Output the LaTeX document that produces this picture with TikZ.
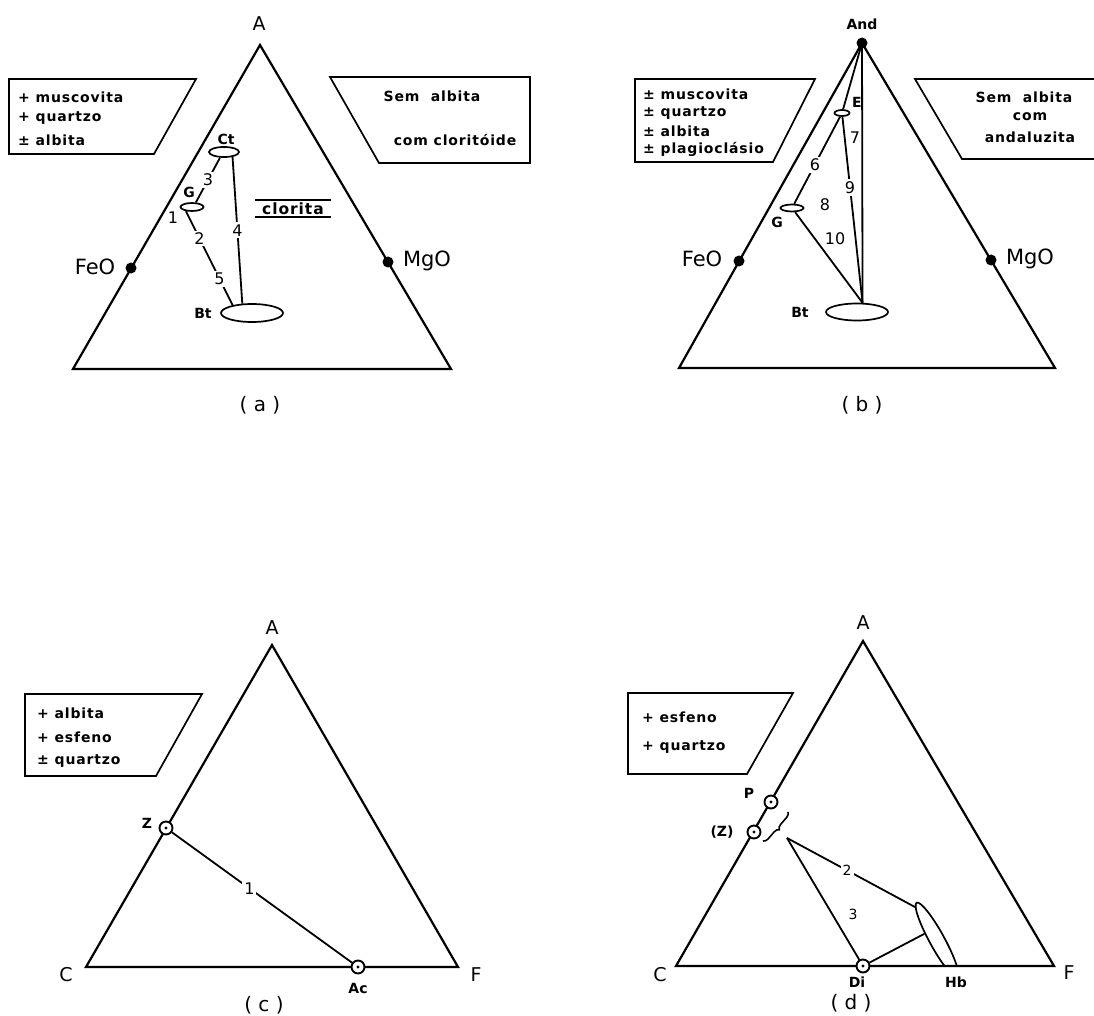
\documentclass[tikz,border=0pt]{standalone}
\usepackage{fontspec}
\setmainfont{DejaVu Sans}
\newfontfamily\boxfont[LetterSpace=6]{DejaVu Sans}
\usetikzlibrary{shapes.geometric,decorations.pathreplacing}
\begin{document}
\begin{tikzpicture}[x=1pt,y=-1pt,
  tri/.style={line width=2.2pt, line join=miter},
  tie/.style={line width=1.8pt},
  boxs/.style={line width=1.7pt, line join=miter},
  rulel/.style={line width=1.5pt},
  boxtxt/.style={font=\boxfont\bfseries\fontsize{14}{16}\selectfont, anchor=west, inner sep=0pt},
  boxctr/.style={font=\boxfont\bfseries\fontsize{14}{16}\selectfont, inner sep=0pt},
  vlab/.style={font=\fontsize{19}{21}\selectfont, inner sep=0pt},
  oxlab/.style={font=\fontsize{21}{23}\selectfont, inner sep=0pt},
  minlab/.style={font=\bfseries\fontsize{14}{16}\selectfont, inner sep=0pt},
  numfill/.style={font=\fontsize{16}{18}\selectfont, fill=white, inner sep=2pt},
  numplain/.style={font=\fontsize{16}{18}\selectfont, inner sep=0pt},
  plab/.style={font=\fontsize{20}{22}\selectfont, inner sep=0pt},
  phase/.style={ellipse, draw, line width=1.7pt, inner sep=0pt},
  dotpt/.style={circle, fill, inner sep=0pt, minimum size=11pt},
  ringpt/.style={circle, draw, line width=1.9pt, fill=white, inner sep=0pt, minimum size=13pt},
  ringdot/.style={circle, fill, inner sep=0pt, minimum size=3.2pt},
]
\fill[white] (0,0) rectangle (1094,1016);
\useasboundingbox (0,0) rectangle (1094,1016);

% ================= (a) =================
\coordinate (aA) at (260,45);
\coordinate (aL) at (73,369);
\coordinate (aR) at (451,369);
\draw[tri] (aA) -- (aL) -- (aR) -- cycle;
\node[vlab] (aAl) at (259,24) {A};
\node[dotpt] (aFe) at (131,268) {};
\node[oxlab] (aFel) at (95,267) {FeO};
\node[dotpt] (aMg) at (388,262) {};
\node[oxlab] (aMgl) at (427,261) {MgO};

\draw[boxs] (9,79) -- (196,79) -- (154,154) -- (9,154) -- cycle;
\node[boxtxt] (a1) at (18,97) {+ muscovita};
\node[boxtxt] (a2) at (18,118) {+ quartzo};
\node[boxtxt] (a3) at (18,140) {± albita};

\draw[boxs] (330,77) -- (530,77) -- (530,163) -- (379,163) -- cycle;
\node[boxctr] (a4) at (432,96) {Sem\ \ albita};
\node[boxctr] (a5) at (455,140) {com cloritóide};

\node[phase, minimum width=30pt, minimum height=10pt] (ct) at (224,152) {};
\node[minlab] (ctl) at (226,139) {Ct};
\node[phase, minimum width=23pt, minimum height=8pt] (ga) at (192,207) {};
\node[minlab] (gal) at (189,192) {G};
\node[phase, minimum width=62pt, minimum height=18pt] (bta) at (252,313) {};
\node[minlab] (btal) at (203,313) {Bt};

\draw[tie] (ct.235) -- node[numfill, pos=.5] {3} (ga.50);
\draw[tie] (ct.330) -- node[numfill, pos=.5] {4} (bta.136);
\draw[tie] (ga.215) -- node[numfill, pos=.29] {2} node[numfill, pos=.72] {5} (bta.158);
\node[numplain] (a1n) at (173,218) {1};

\node[boxctr, font=\boxfont\bfseries\fontsize{15.5}{17}\selectfont, minimum width=76pt, minimum height=17pt] (clor) at (293,208.5) {clorita};
\draw[rulel] (clor.north west) -- (clor.north east);
\draw[rulel] (clor.south west) -- (clor.south east);

\node[plab] (acap) at (260,405) {( a )};

% ================= (b) =================
\coordinate (bA) at (862,43);
\coordinate (bL) at (679,368);
\coordinate (bR) at (1055,368);
\draw[tri] (bA) -- (bL) -- (bR) -- cycle;
\node[minlab] (bandl) at (862,24) {And};
\node[dotpt] (bFe) at (739,261) {};
\node[oxlab] (bFel) at (702,259) {FeO};
\node[dotpt] (bMg) at (991,260) {};
\node[oxlab] (bMgl) at (1030,259) {MgO};

\draw[boxs] (635,79) -- (815,79) -- (773,162) -- (635,162) -- cycle;
\node[boxtxt] (b1) at (643,94) {± muscovita};
\node[boxtxt] (b2) at (643,113) {± quartzo};
\node[boxtxt] (b3) at (643,131) {± albita};
\node[boxtxt] (b4) at (643,149) {± plagioclásio};

\draw[boxs] (1100,79) -- (915,79) -- (962,159) -- (1100,159);
\node[boxctr] (b5) at (1024,97) {Sem\ \ albita};
\node[boxctr] (b6) at (1030,117) {com};
\node[boxctr] (b7) at (1030,137) {andaluzita};

\node[phase, minimum width=15pt, minimum height=6pt] (eb) at (842,113) {};
\node[minlab] (ebl) at (857,102) {E};
\node[phase, minimum width=23pt, minimum height=7pt] (gb) at (792,208) {};
\node[minlab] (gbl) at (777,222) {G};
\node[phase, minimum width=62pt, minimum height=17pt] (btb) at (857,312) {};
\node[minlab] (btbl) at (800,312) {Bt};

\draw[tie] (bA) -- (eb);
\draw[tie] (bA) -- (btb.59);
\draw[tie] (eb) -- node[numfill, pos=.55] {6} (gb);
\draw[tie] (eb) -- node[numfill, pos=.38] {9} (btb.59);
\draw[tie] (gb) -- (btb.59);
\node[dotpt] (band) at (862,43) {};
\node[numplain] (b7n) at (855,138) {7};
\node[numplain] (b8n) at (825,205) {8};
\node[numplain] (b10n) at (835,239) {10};

\node[plab] (bcap) at (862,405) {( b )};

% ================= (c) =================
\coordinate (cA) at (272,645);
\coordinate (cC) at (86,967);
\coordinate (cF) at (458,967);
\draw[tri] (cA) -- (cC) -- (cF) -- cycle;
\node[vlab] (cAl) at (272,628) {A};
\node[vlab] (cCl) at (66,975) {C};
\node[vlab] (cFl) at (476,975) {F};

\draw[boxs] (25,694) -- (202,694) -- (156,776) -- (25,776) -- cycle;
\node[boxtxt] (c1) at (37,713) {+ albita};
\node[boxtxt] (c2) at (37,737) {+ esfeno};
\node[boxtxt] (c3) at (37,761) {± quartzo};

\node[ringpt] (zc) at (166,828) {};
\node[ringdot] (zcd) at (166,828) {};
\node[minlab] (zcl) at (147,823) {Z};
\node[ringpt] (acc) at (358,967) {};
\node[ringdot] (accd) at (358,967) {};
\node[minlab] (accl) at (358,988) {Ac};
\draw[tie] (zc) -- node[numfill, pos=.43] {1} (acc);

\node[plab] (ccap) at (264,1005) {( c )};

% ================= (d) =================
\coordinate (dA) at (863,641);
\coordinate (dC) at (676,966);
\coordinate (dF) at (1054,966);
\draw[tri] (dA) -- (dC) -- (dF) -- cycle;
\node[vlab] (dAl) at (863,623) {A};
\node[vlab] (dCl) at (660,975) {C};
\node[vlab] (dFl) at (1069,973) {F};

\draw[boxs] (628,693) -- (793,693) -- (747,774) -- (628,774) -- cycle;
\node[boxtxt] (d1) at (642,717) {+ esfeno};
\node[boxtxt] (d2) at (642,747) {+ quartzo};

\node[ringpt] (pd) at (771,802) {};
\node[ringdot] (pdd) at (771,802) {};
\node[minlab] (pdl) at (749,793) {P};
\node[ringpt] (zd) at (754,832) {};
\node[ringdot] (zdd) at (754,832) {};
\node[minlab] (zdl) at (722,832) {(Z)};
\draw[line width=1.6pt, decorate, decoration={brace, amplitude=5pt}] (788,812) -- (763,841);

\begin{scope}
  \clip (600,600) rectangle (1094,965.5);
  \node[phase, rotate=-61.3, minimum width=85pt, minimum height=15pt] (hb) at (937,940) {};
\end{scope}
\node[minlab] (hbl) at (956,982) {Hb};

\coordinate (dz) at (787,838);
\draw[tie] (dz) -- (863,966);
\node[ringpt] (di) at (863,966) {};
\node[ringdot] (did) at (863,966) {};
\node[minlab] (dil) at (857,982) {Di};
\draw[tie] (dz) -- node[numfill, pos=.47, font=\fontsize{14}{16}\selectfont] {2} (hb.185);
\draw[tie] (di) -- (hb.215);
\node[numplain, font=\fontsize{14}{16}\selectfont] (d3n) at (853,914) {3};

\node[plab] (dcap) at (851,1003) {( d )};
\end{tikzpicture}
\end{document}
